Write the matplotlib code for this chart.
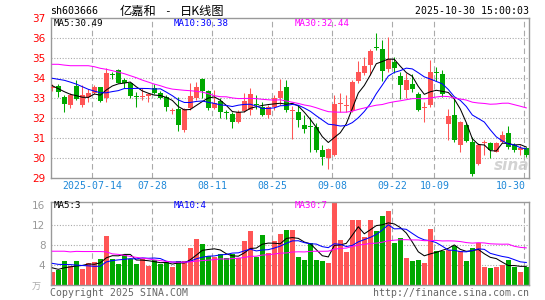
import numpy as np
import pandas as pd
import matplotlib
matplotlib.use('Agg')
import matplotlib.pyplot as plt
from matplotlib.transforms import blended_transform_factory

# daily bars 2025-07-03 .. 2025-10-30 (80 trading days)
opens = [33.50, 33.58, 33.05, 32.63, 33.58, 32.63, 33.05, 33.25, 33.52, 33.00,
         34.17, 34.38, 33.88, 33.72, 33.07, 33.05, 33.07, 33.47, 33.25, 33.05,
         32.33, 32.43, 31.38, 32.50, 33.00, 33.93, 33.33, 32.50, 32.83, 32.28,
         32.18, 31.80, 32.33, 32.38, 32.70, 32.55, 32.13, 32.55, 32.97, 33.52,
         32.33, 32.30, 31.63, 31.57, 31.52, 30.38, 29.97, 30.13, 32.70, 32.60,
         32.35, 33.85, 34.25, 34.63, 35.55, 35.43, 34.42, 34.80, 34.08, 33.38,
         33.68, 33.17, 32.50, 32.63, 34.28, 34.18, 31.70, 32.13, 30.63, 31.63,
         30.77, 29.68, 30.73, 30.72, 30.30, 30.77, 31.25, 30.63, 30.37, 30.47]
highs = [33.67, 33.67, 33.13, 33.22, 33.88, 33.63, 33.43, 33.63, 33.55, 34.47,
         34.30, 34.42, 33.97, 33.80, 33.27, 33.47, 33.25, 33.67, 33.33, 33.13,
         32.50, 33.05, 32.47, 33.72, 33.77, 33.97, 33.38, 33.38, 32.97, 32.38,
         32.30, 32.38, 33.22, 33.47, 33.13, 32.80, 32.63, 33.13, 33.93, 33.88,
         32.60, 32.63, 32.13, 32.05, 31.72, 30.63, 30.47, 33.13, 33.25, 33.13,
         33.88, 34.85, 35.05, 35.43, 36.25, 35.88, 36.02, 35.02, 34.30, 34.22,
         34.20, 33.30, 32.80, 34.88, 34.55, 34.38, 32.45, 32.97, 31.83, 31.72,
         31.05, 30.72, 30.88, 30.77, 30.80, 31.33, 31.60, 30.72, 30.63, 30.55]
lows = [33.33, 33.05, 32.27, 32.47, 32.88, 32.55, 32.80, 33.17, 32.80, 32.80,
        33.93, 33.72, 33.47, 32.97, 32.55, 32.88, 32.77, 33.17, 32.93, 32.35,
        32.20, 31.33, 31.27, 32.38, 32.88, 33.00, 32.38, 32.43, 31.97, 31.93,
        31.50, 31.72, 32.27, 32.13, 32.43, 32.10, 31.97, 32.38, 32.63, 32.27,
        30.95, 31.55, 31.22, 30.30, 30.30, 29.63, 29.42, 30.10, 32.30, 32.30,
        32.30, 33.75, 34.13, 34.13, 35.38, 33.85, 34.30, 34.25, 32.92, 32.97,
        33.30, 32.33, 31.80, 32.55, 33.83, 33.05, 30.90, 30.77, 30.27, 30.77,
        29.10, 29.63, 30.13, 30.00, 30.27, 30.72, 30.43, 30.27, 30.13, 30.05]
closes = [33.52, 33.27, 32.67, 33.13, 32.92, 33.13, 33.22, 33.52, 32.85, 34.22,
          34.12, 33.75, 33.72, 33.10, 33.03, 33.10, 33.17, 33.25, 33.00, 32.55,
          32.35, 31.63, 32.43, 33.10, 33.55, 33.33, 32.50, 32.72, 32.27, 32.25,
          31.80, 32.30, 32.83, 33.18, 32.63, 32.13, 32.52, 33.00, 33.33, 32.38,
          32.35, 31.88, 31.43, 31.55, 30.38, 30.02, 30.42, 32.68, 32.75, 32.63,
          33.80, 34.30, 34.58, 35.35, 35.47, 34.35, 34.92, 34.50, 33.63, 33.88,
          33.42, 32.38, 32.53, 34.27, 34.25, 33.17, 32.08, 30.88, 31.80, 30.83,
          29.17, 30.63, 30.75, 30.38, 30.75, 31.13, 30.55, 30.38, 30.47, 30.13]
# volume, 10k shares
volumes = [2.50, 2.87, 4.87, 3.70, 4.87, 3.07, 4.40, 4.50, 5.20, 9.87,
           5.20, 4.27, 5.90, 5.20, 4.27, 5.10, 3.67, 5.00, 4.13, 4.50,
           3.47, 4.87, 4.87, 7.40, 9.13, 8.27, 5.73, 5.53, 6.27, 5.33,
           6.20, 5.33, 8.87, 10.73, 5.67, 10.07, 6.47, 8.73, 10.20, 11.00,
           10.93, 5.67, 5.07, 8.47, 5.07, 4.87, 4.47, 16.60, 8.93, 6.67,
           13.07, 12.93, 9.53, 12.93, 10.87, 13.87, 14.87, 8.47, 9.33, 5.33,
           4.87, 5.07, 4.47, 11.27, 6.87, 6.87, 7.07, 7.87, 6.87, 4.87,
           7.47, 8.40, 3.50, 3.30, 3.60, 3.90, 5.00, 3.50, 2.50, 3.60]

ma5_head = [33.60, 33.45, 33.30, 33.17]
ma10_head = [33.97, 33.92, 33.87, 33.78, 33.68, 33.55, 33.42, 33.33, 33.25]
ma30_head = [34.67, 34.67, 34.63, 34.60, 34.60, 34.60, 34.60, 34.55, 34.47, 34.42,
             34.35, 34.28, 34.20, 34.10, 34.00, 33.88, 33.78, 33.68, 33.60, 33.50,
             33.43, 33.40, 33.37, 33.35, 33.32, 33.28, 33.20, 33.10, 33.05]
vma5_head = [3.40, 3.10, 3.40, 3.60]
vma10_head = [4.30, 4.10, 4.07, 4.05, 3.95, 3.87, 3.80, 3.70, 3.73]
vma30_head = [6.73, 6.73, 6.73, 6.60, 6.70, 6.67, 6.67, 6.67, 6.67, 6.60,
              6.20, 6.10, 5.90, 5.70, 5.50, 5.35, 5.20, 5.00, 4.85, 4.70,
              4.55, 4.53, 4.53, 4.60, 4.75, 4.85, 4.95, 5.05, 5.20]

tick_idx = [7, 17, 27, 37, 47, 57, 64, 79]
tick_labels = ['2025-07-14', '07-28', '08-11', '08-25', '09-08', '09-22', '10-09', '10-30']

W, H = 545, 300
RED = '#ff5555'
GREEN = '#00a800'
GRID = '#aaaaaa'
MONO = 'DejaVu Sans Mono'
CJK = ['Noto Sans CJK SC', 'DejaVu Sans']


def moving(values, n, head):
    m = pd.Series(values).rolling(n).mean().to_numpy()
    m[:n - 1] = head
    return m


def box(l, t, r, b):
    return [l / W, 1 - b / H, (r - l) / W, (b - t) / H]


def ftext(x, y, s, **kw):
    fig.text(x / W, 1 - y / H, s, va='center', **kw)


o = np.array(opens)
c = np.array(closes)
x = np.arange(len(closes))
up = c >= o
cols = np.where(up, RED, GREEN)

fig = plt.figure(figsize=(W / 100, H / 100), dpi=100)
fig.patch.set_facecolor('white')
ax = fig.add_axes(box(51, 17.7, 529.3, 177.7))
axv = fig.add_axes(box(51, 201.7, 529.3, 284.8))

for a in (ax, axv):
    a.set_xlim(-0.22, 79.5)
    a.set_xticks([])
    for s in a.spines.values():
        s.set_color('#999999')
        s.set_linewidth(1)
    for t in tick_idx:
        a.axvline(t - 0.33, color=GRID, lw=0.8, ls=(0, (5, 3)), zorder=0)
    a.tick_params(axis='y', length=0, pad=4)

# price panel
ax.set_ylim(29, 37)
for p in range(30, 37):
    ax.axhline(p, color=GRID, lw=0.8, ls=(0, (1, 1.5)), zorder=0)
ax.vlines(x, lows, highs, colors=cols, lw=0.75, zorder=2)
body = np.maximum(np.abs(c - o), 0.045)
ax.bar(x, body, bottom=np.minimum(o, c), width=0.75, color=cols, linewidth=0, zorder=3)
ax.plot(x, moving(closes, 5, ma5_head), color='black', lw=0.75, zorder=4)
ax.plot(x, moving(closes, 10, ma10_head), color='#0000ff', lw=0.75, zorder=4)
ax.plot(x, moving(closes, 30, ma30_head), color='#ff00ff', lw=0.75, zorder=4)
ax.set_yticks(range(29, 38))
ax.set_yticklabels([str(v) for v in range(29, 38)], color='red', fontsize=7.5)

tr = blended_transform_factory(ax.transData, ax.transAxes)
for t, lab in zip(tick_idx, tick_labels):
    if t == tick_idx[-1]:
        ax.text(t - 0.1, -0.055, lab, transform=tr, ha='right', va='center',
                color='#1e88d8', fontsize=7.1, family=MONO)
    else:
        ax.text(t - 0.33, -0.055, lab, transform=tr, ha='center', va='center',
                color='#1e88d8', fontsize=7.1, family=MONO)

# volume panel
axv.set_ylim(0, 16.66)
for v in (4, 8, 12):
    axv.axhline(v, color=GRID, lw=0.8, ls=(0, (1, 1.5)), zorder=0)
axv.bar(x, volumes, width=0.75, color=cols, linewidth=0, zorder=2)
axv.plot(x, moving(volumes, 5, vma5_head), color='black', lw=0.75, zorder=4)
axv.plot(x, moving(volumes, 10, vma10_head), color='#0000ff', lw=0.75, zorder=4)
axv.plot(x, moving(volumes, 30, vma30_head), color='#ff00ff', lw=0.75, zorder=4)
axv.set_yticks([4, 8, 12, 16])
axv.set_yticklabels(['4', '8', '12', '16'], color='#999999', fontsize=7.5)

# texts
ftext(50, 11, 'sh603666', family=MONO, fontsize=7.2, color='black')
ftext(138, 11, '亿嘉和', family=CJK, fontsize=8.8, color='black', ha='center')
ftext(167, 11, '-', family=MONO, fontsize=8, color='black', ha='center')
ftext(202, 11, '日K线图', family=CJK, fontsize=8.8, color='black', ha='center')
ftext(529, 11, '2025-10-30 15:00:03', family=MONO, fontsize=7.1, color='black', ha='right')
ftext(54, 23.5, 'MA5:30.49', family=MONO, fontsize=6.6, color='black')
ftext(174, 23.5, 'MA10:30.38', family=MONO, fontsize=6.6, color='#0000ff')
ftext(295, 23.5, 'MA30:32.44', family=MONO, fontsize=6.6, color='#ff00ff')
ftext(54, 206, 'MA5:3', family=MONO, fontsize=6.6, color='black')
ftext(174, 206, 'MA10:4', family=MONO, fontsize=6.6, color='#0000ff')
ftext(295, 206, 'MA30:7', family=MONO, fontsize=6.6, color='#ff00ff')
ftext(36, 287, '万', family=CJK, fontsize=6.5, color='#aaaaaa', ha='center')
ftext(50, 293, 'Copyright 2025 SINA.COM', family=MONO, fontsize=7.1, color='#666666')
ftext(529, 293, 'http://finance.sina.com.cn', family=MONO, fontsize=7.1,
      color='#666666', ha='right')
ftext(512, 165, 'sina', family='DejaVu Sans', fontsize=11, color='#c8c8c8',
      ha='center', style='italic', weight='bold', alpha=0.8)

fig.savefig('out.png', dpi=100, facecolor='white')
